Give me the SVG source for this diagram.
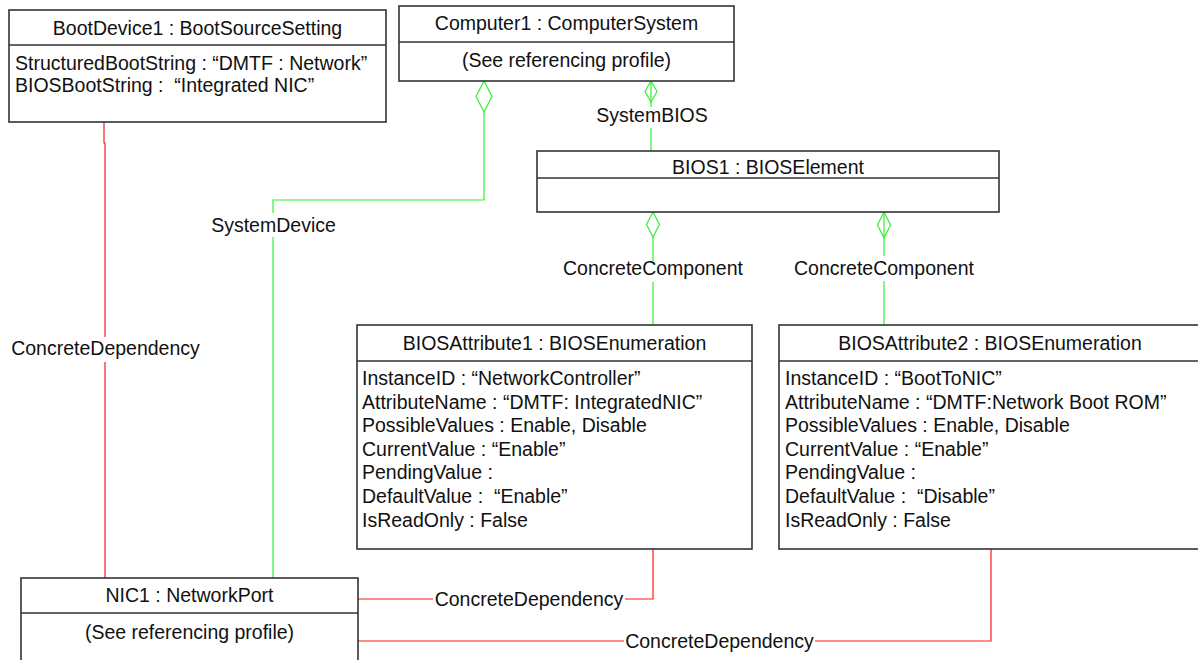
<svg xmlns="http://www.w3.org/2000/svg" width="1198" height="660" viewBox="0 0 1198 660">
  <style>
    .box { fill: #ffffff; stroke: #333333; stroke-width: 1.6; }
    .div { stroke: #333333; stroke-width: 1.6; }
    text { font-family: "Liberation Sans", Arial, sans-serif; font-size: 19.5px; fill: #111111; white-space: pre; }
    .c { text-anchor: middle; }
    .dep { fill: none; stroke: #ff1a1a; stroke-width: 1.2; }
    .agg { fill: none; stroke: #33f033; stroke-width: 1.2; }
    .dia { fill: #ffffff; stroke: #33f033; stroke-width: 1.2; }
  </style>

  <!-- connectors -->
  <g id="connectors">
    <!-- BootDevice1 to NIC1 -->
    <path class="dep" d="M104,122 V143 H105 V337 M105,362 V578"/>
    <text class="c" x="105.5" y="355">ConcreteDependency</text>

    <!-- Computer1 to NIC1 (SystemDevice) -->
    <path class="agg" d="M484,112 V200 H273 V213 M273,237 V578"/>
    <polygon class="dia" points="484,81 492,96.5 484,112 476,96.5"/>
    <text class="c" x="273.5" y="232">SystemDevice</text>

    <!-- Computer1 to BIOS1 (SystemBIOS) -->
    <polygon class="dia" points="651,81 657,91.5 651,102 645,91.5"/>
    <path class="agg" d="M651,81 V107 M651,128 V151"/>
    <text class="c" x="652" y="122">SystemBIOS</text>

    <!-- BIOS1 to BIOSAttribute1 -->
    <polygon class="dia" points="653,212 659.5,224.5 653,237 646.5,224.5"/>
    <path class="agg" d="M653,237 V261 M653,282 V325"/>
    <text class="c" x="653" y="275">ConcreteComponent</text>

    <!-- BIOS1 to BIOSAttribute2 -->
    <polygon class="dia" points="884,212 890.5,225 884,238 877.5,225"/>
    <path class="agg" d="M884,212 V256 M884,281 V325"/>
    <text class="c" x="884" y="275">ConcreteComponent</text>

    <!-- NIC1 to BIOSAttribute1 -->
    <path class="dep" d="M358,599 H433 M625,599 H653 V549"/>
    <text class="c" x="529" y="606">ConcreteDependency</text>

    <!-- NIC1 to BIOSAttribute2 -->
    <path class="dep" d="M358,641 H624 M815,641 H991 V549"/>
    <text class="c" x="719.5" y="648">ConcreteDependency</text>
  </g>

  <!-- BootDevice1 -->
  <g id="bootdevice1">
    <rect class="box" x="9" y="10" width="377" height="112"/>
    <line class="div" x1="9" y1="45" x2="386" y2="45"/>
    <text class="c" x="197.5" y="35">BootDevice1 : BootSourceSetting</text>
    <text x="15" y="70">StructuredBootString : “DMTF : Network”</text>
    <text x="15" y="92" xml:space="preserve">BIOSBootString :  “Integrated NIC”</text>
  </g>

  <!-- Computer1 -->
  <g id="computer1">
    <rect class="box" x="399" y="6" width="335" height="75"/>
    <line class="div" x1="399" y1="42" x2="734" y2="42"/>
    <text class="c" x="566.5" y="30">Computer1 : ComputerSystem</text>
    <text class="c" x="566.5" y="67">(See referencing profile)</text>
  </g>

  <!-- BIOS1 -->
  <g id="bios1">
    <rect class="box" x="537" y="151" width="462" height="61"/>
    <line class="div" x1="537" y1="178" x2="999" y2="178"/>
    <text class="c" x="768" y="174">BIOS1 : BIOSElement</text>
  </g>

  <!-- BIOSAttribute1 -->
  <g id="biosattribute1">
    <rect class="box" x="357" y="325" width="395" height="224"/>
    <line class="div" x1="357" y1="361" x2="752" y2="361"/>
    <text class="c" x="554.5" y="350">BIOSAttribute1 : BIOSEnumeration</text>
    <text x="362" y="385">InstanceID : “NetworkController”</text>
    <text x="362" y="408.6">AttributeName : “DMTF: IntegratedNIC”</text>
    <text x="362" y="432.2">PossibleValues : Enable, Disable</text>
    <text x="362" y="455.8">CurrentValue : “Enable”</text>
    <text x="362" y="479.4">PendingValue :</text>
    <text x="362" y="503" xml:space="preserve">DefaultValue :  “Enable”</text>
    <text x="362" y="526.6">IsReadOnly : False</text>
  </g>

  <!-- BIOSAttribute2 -->
  <g id="biosattribute2">
    <rect class="box" x="779" y="325" width="422" height="224"/>
    <line class="div" x1="779" y1="361" x2="1201" y2="361"/>
    <text class="c" x="990" y="350">BIOSAttribute2 : BIOSEnumeration</text>
    <text x="785" y="385">InstanceID : “BootToNIC”</text>
    <text x="785" y="408.6">AttributeName : “DMTF:Network Boot ROM”</text>
    <text x="785" y="432.2">PossibleValues : Enable, Disable</text>
    <text x="785" y="455.8">CurrentValue : “Enable”</text>
    <text x="785" y="479.4">PendingValue :</text>
    <text x="785" y="503" xml:space="preserve">DefaultValue :  “Disable”</text>
    <text x="785" y="526.6">IsReadOnly : False</text>
  </g>

  <!-- NIC1 -->
  <g id="nic1">
    <rect class="box" x="21" y="578" width="337" height="100"/>
    <line class="div" x1="21" y1="613" x2="358" y2="613"/>
    <text class="c" x="189.5" y="602">NIC1 : NetworkPort</text>
    <text class="c" x="189.5" y="639">(See referencing profile)</text>
  </g>
</svg>
